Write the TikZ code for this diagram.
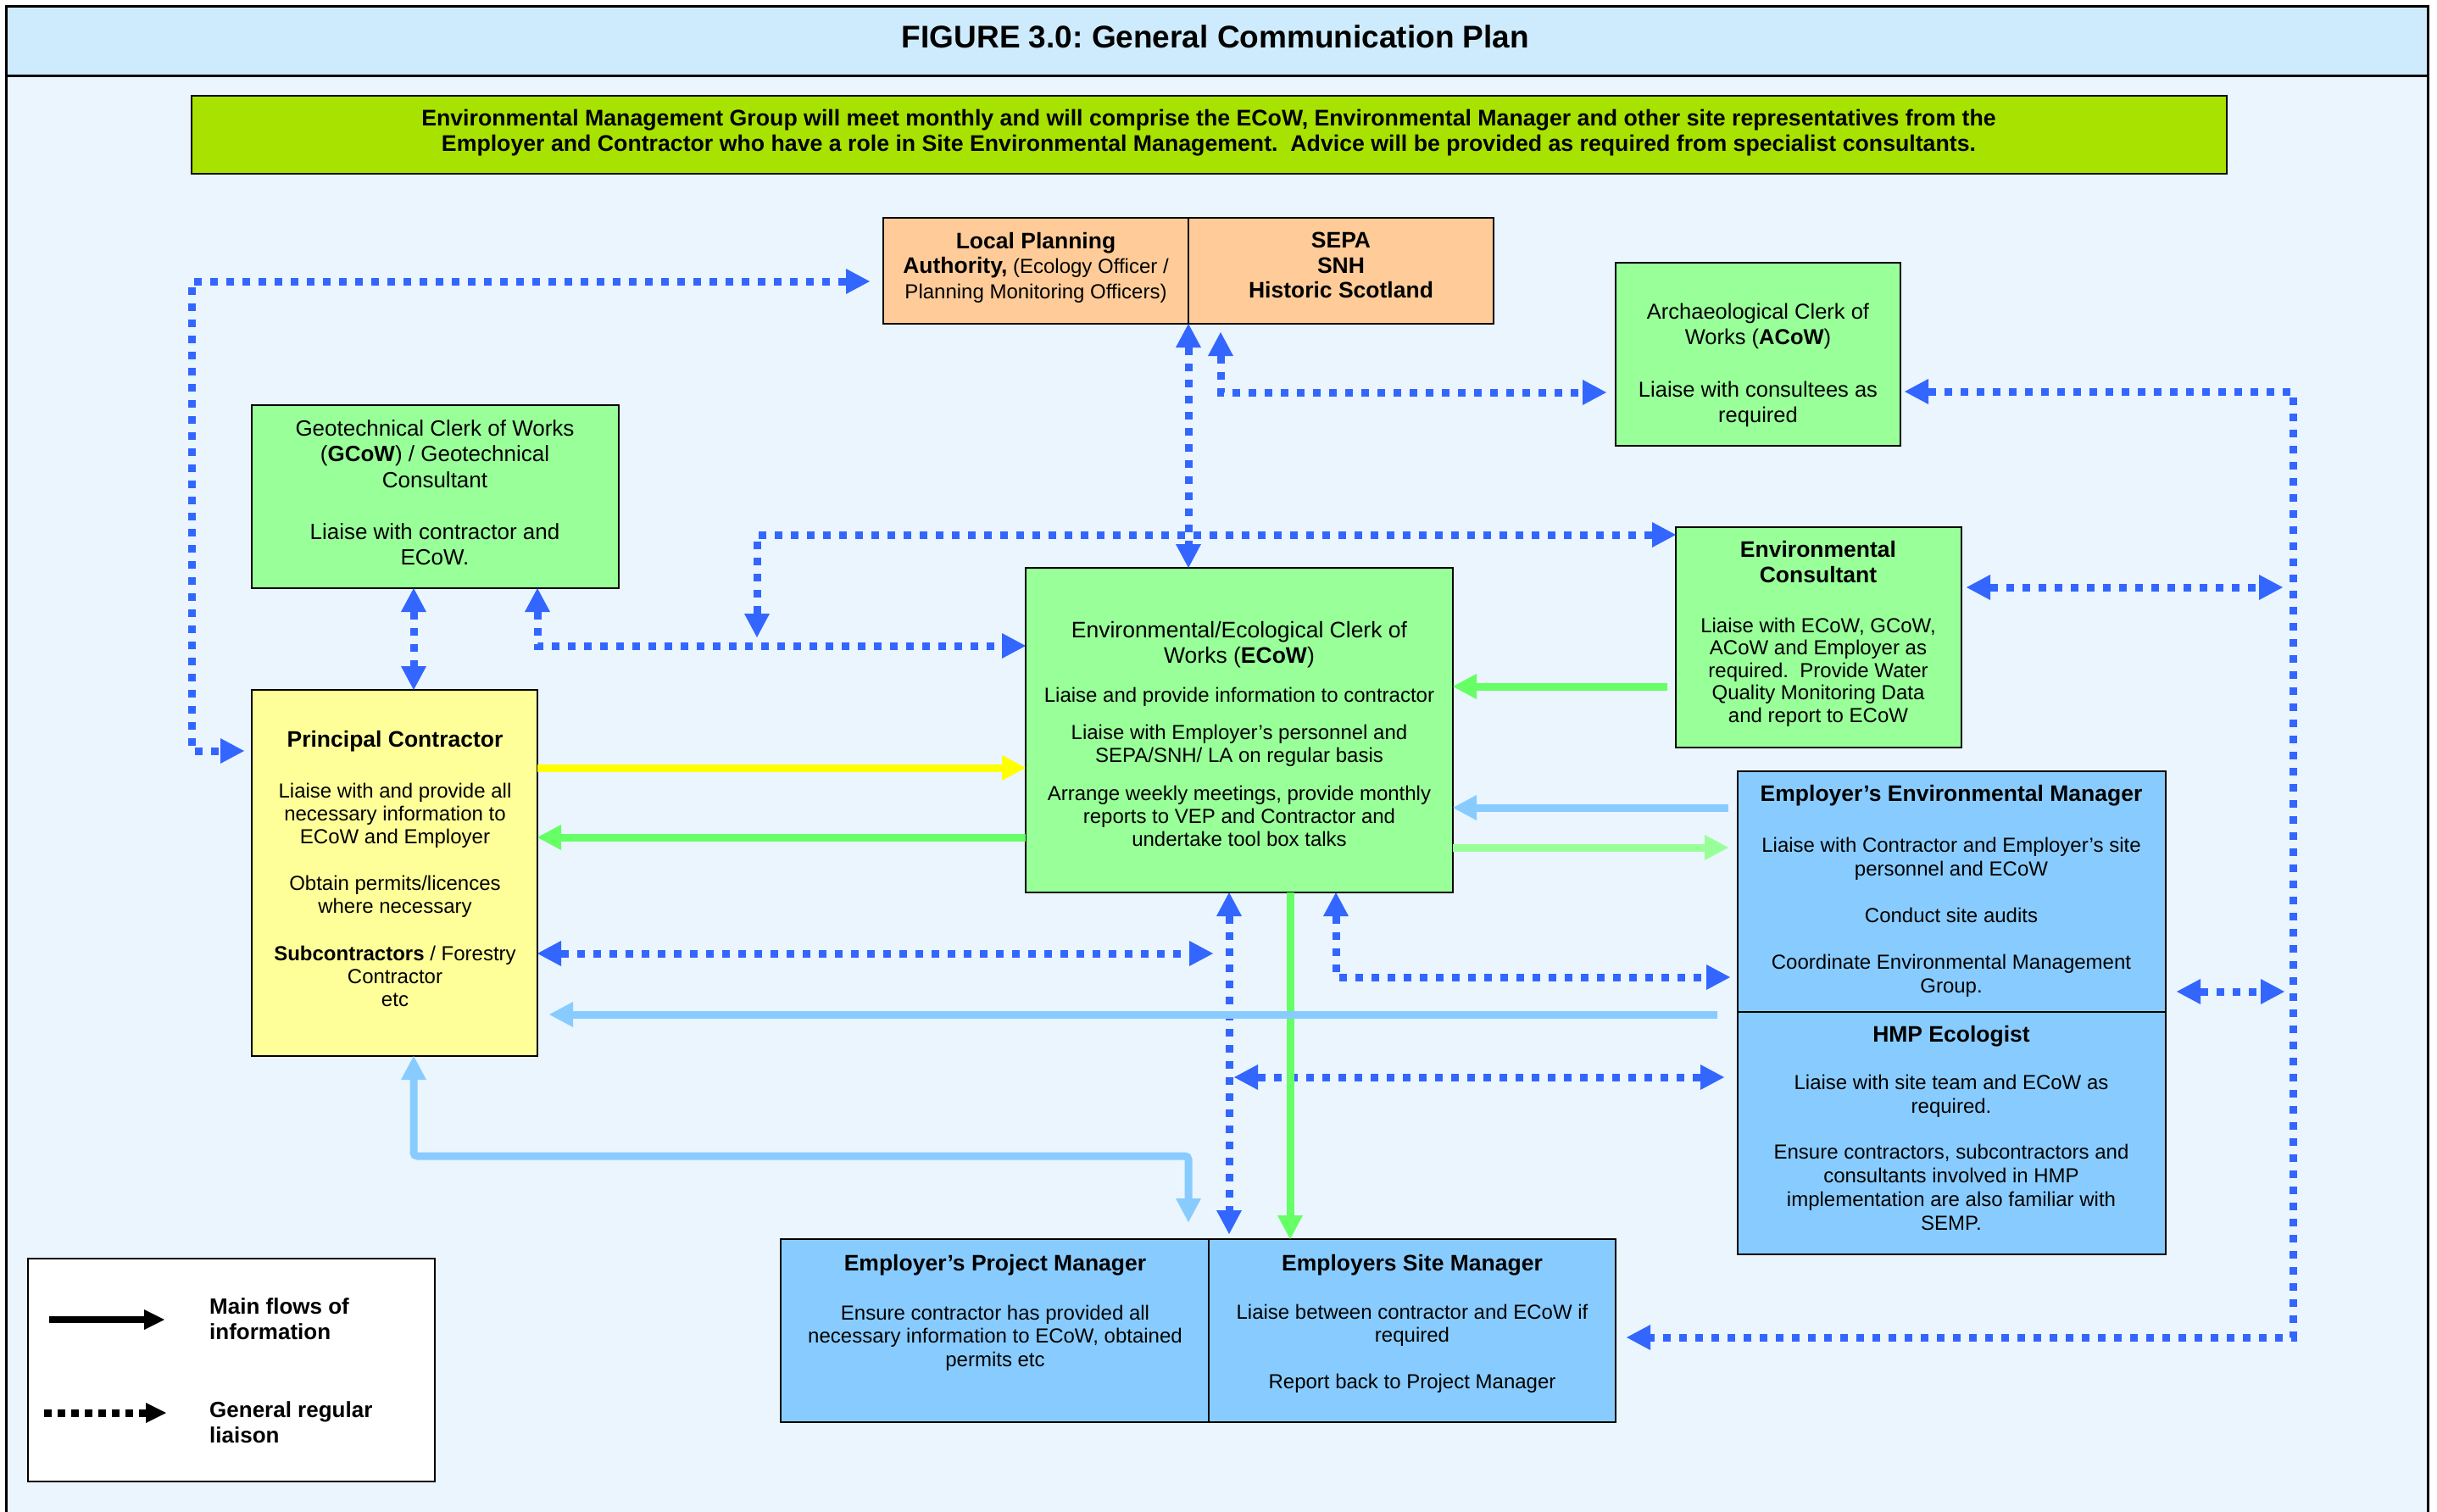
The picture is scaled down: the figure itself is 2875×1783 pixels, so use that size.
\documentclass[tikz,border=0pt]{standalone}
\usepackage{fontspec}
\setmainfont{Liberation Sans}
\usetikzlibrary{arrows.meta}
\definecolor{titlebg}{RGB}{205,235,252}
\definecolor{mainbg}{RGB}{234,245,253}
\definecolor{bannergreen}{RGB}{168,226,0}
\definecolor{peach}{RGB}{255,204,153}
\definecolor{boxgreen}{RGB}{153,255,153}
\definecolor{boxyellow}{RGB}{255,255,153}
\definecolor{boxblue}{RGB}{136,204,255}
\definecolor{dotblue}{RGB}{51,102,255}
\definecolor{flowgreen}{RGB}{102,255,102}
\definecolor{flowpale}{RGB}{153,255,153}
\definecolor{flowyellow}{RGB}{255,255,0}
\definecolor{flowblue}{RGB}{136,204,255}
\newcommand{\BodyFont}{\fontsize{24}{27}\selectfont}
\newcommand{\HeadFont}{\fontsize{26.5}{30}\selectfont\bfseries}
\newcommand{\BigFont}{\fontsize{26.5}{30}\selectfont}
\frenchspacing
\begin{document}
\begin{tikzpicture}[x=1pt,y=-1pt,
  >={Triangle[length=28pt,width=30pt,line width=0pt]},
  box/.style={draw=black, line width=2.5pt, anchor=north west, inner sep=0pt, outer sep=0pt},
  txt/.style={anchor=north, align=center, inner sep=0pt, font=\BodyFont},
  liaison/.style={draw=dotblue, line width=9pt, dash pattern=on 9pt off 10pt, <->},
  flowG/.style={draw=flowgreen, line width=9pt, ->},
  flowP/.style={draw=flowpale, line width=9pt, ->},
  flowY/.style={draw=flowyellow, line width=9pt, ->},
  flowB/.style={draw=flowblue, line width=9pt, ->},
  legtxt/.style={anchor=north west, align=left, inner sep=0pt, font=\fontsize{26}{30}\selectfont\bfseries}
]
\useasboundingbox (0,0) rectangle (2875,1783);
\fill[white] (0,0) rectangle (2875,1783);
% frame and title
\node[box, line width=3pt, fill=mainbg, minimum width=2857pt, minimum height=1820pt] (frame) at (7,7) {};
\node[box, line width=3pt, fill=titlebg, minimum width=2857pt, minimum height=82pt] (titlebar) at (7,7) {};
\node[inner sep=0pt, font=\fontsize{37}{40}\selectfont\bfseries] (title) at (1434,43) {FIGURE 3.0: General Communication Plan};
% banner
\node[box, line width=2pt, fill=bannergreen, minimum width=2401pt, minimum height=92pt] (banner) at (226,113) {};
\node[txt, font=\fontsize{26.7}{30}\selectfont\bfseries] (bannertext) at (1426,129) {Environmental Management Group will meet monthly and will comprise the ECoW, Environmental Manager and other site representatives from the\\Employer and Contractor who have a role in Site Environmental Management.\ \ Advice will be provided as required from specialist consultants.};
% boxes
\node[box, fill=peach, minimum width=360pt, minimum height=125pt] (lpa) at (1042,257) {};
\node[box, fill=peach, minimum width=360pt, minimum height=125pt] (sepa) at (1402,257) {};
\node[box, fill=boxgreen, minimum width=336pt, minimum height=216pt] (acow) at (1906,310) {};
\node[box, fill=boxgreen, minimum width=433pt, minimum height=216pt] (gcow) at (297,478) {};
\node[box, fill=boxgreen, minimum width=504pt, minimum height=383pt] (ecow) at (1210,670) {};
\node[box, fill=boxgreen, minimum width=337pt, minimum height=260pt] (envc) at (1977,622) {};
\node[box, fill=boxblue, minimum width=505pt, minimum height=284pt] (eem) at (2050,910) {};
\node[box, fill=boxblue, minimum width=505pt, minimum height=286pt] (hmp) at (2050,1194) {};
\node[box, fill=boxyellow, minimum width=337pt, minimum height=432pt] (pc) at (297,814) {};
\node[box, fill=boxblue, minimum width=505pt, minimum height=216pt] (pm) at (921,1462) {};
\node[box, fill=boxblue, minimum width=480pt, minimum height=216pt] (sm) at (1426,1462) {};
\node[box, line width=2pt, fill=white, minimum width=480pt, minimum height=263pt] (legend) at (33,1485) {};
% texts
\node[txt, font=\fontsize{24}{29.5}\selectfont] (lpatext) at (1222,274) {{\HeadFont Local Planning}\\{\HeadFont Authority,} (Ecology Officer /\\Planning Monitoring Officers)};
\node[txt, font=\fontsize{26.5}{29.5}\selectfont\bfseries] (sepatext) at (1582,274) {SEPA\\SNH\\Historic Scotland};
\node[txt, font=\fontsize{25.5}{30}\selectfont] (acowtext) at (2074,358) {Archaeological Clerk of\\Works (\textbf{ACoW})\\[32pt]Liaise with consultees as\\required};
\node[txt, font=\fontsize{26}{30.5}\selectfont] (gcowtext) at (513,495) {Geotechnical Clerk of Works\\(\textbf{GCoW}) / Geotechnical\\Consultant\\[30.5pt]Liaise with contractor and\\ECoW.};
\node[txt] (ecowtext) at (1462,733) {{\BigFont Environmental/Ecological Clerk of}\\[3pt]{\BigFont Works (\textbf{ECoW})}\\[19pt]Liaise and provide information to contractor\\[17pt]Liaise with Employer’s personnel and\\SEPA/SNH/ LA on regular basis\\[18pt]Arrange weekly meetings, provide monthly\\reports to VEP and Contractor and\\undertake tool box talks};
\node[txt, font=\fontsize{24}{26.5}\selectfont] (envctext) at (2145,638) {{\HeadFont Environmental}\\[3.5pt]{\HeadFont Consultant}\\[32.5pt]Liaise with ECoW, GCoW,\\ACoW and Employer as\\required.\ \ Provide Water\\Quality Monitoring Data\\and report to ECoW};
\node[txt, font=\fontsize{24}{28}\selectfont] (eemtext) at (2302,926) {{\HeadFont Employer’s Environmental Manager}\\[32pt]Liaise with Contractor and Employer’s site\\personnel and ECoW\\[27pt]Conduct site audits\\[27pt]Coordinate Environmental Management\\Group.};
\node[txt, font=\fontsize{24}{28}\selectfont] (hmptext) at (2302,1210) {{\HeadFont HMP Ecologist}\\[28pt]Liaise with site team and ECoW as\\required.\\[26pt]Ensure contractors, subcontractors and\\consultants involved in HMP\\implementation are also familiar with\\SEMP.};
\node[txt] (pctext) at (466,862) {{\HeadFont Principal Contractor}\\[33pt]Liaise with and provide all\\necessary information to\\ECoW and Employer\\[28pt]Obtain permits/licences\\where necessary\\[29pt]\textbf{Subcontractors} / Forestry\\Contractor\\etc};
\node[txt, font=\fontsize{24}{27.5}\selectfont] (pmtext) at (1174,1480) {{\HeadFont Employer’s Project Manager}\\[30.5pt]Ensure contractor has provided all\\necessary information to ECoW, obtained\\permits etc};
\node[txt, font=\fontsize{24}{27}\selectfont] (smtext) at (1666,1480) {{\HeadFont Employers Site Manager}\\[30pt]Liaise between contractor and ECoW if\\required\\[28pt]Report back to Project Manager};
% legend
\node[legtxt] (leg1) at (247,1531) {Main flows of\\information};
\node[legtxt] (leg2) at (247,1653) {General regular\\liaison};
\coordinate (l1a) at (58,1557); \coordinate (l1b) at (194,1557);
\coordinate (l2a) at (52,1667); \coordinate (l2b) at (196,1667);
\draw[black, line width=8pt, -{Triangle[length=24pt,width=24pt,line width=0pt]}] (l1a) -- (l1b);
\draw[black, line width=9pt, dash pattern=on 9pt off 7pt, -{Triangle[length=24pt,width=24pt,line width=0pt]}] (l2a) -- (l2b);
% free-end coordinates
\coordinate (hTip) at (893,752);
\coordinate (nTip) at (1431,1125);
\coordinate (sTip) at (1456,1271);
\coordinate (rvE) at (2693,693);
\coordinate (rvF) at (2695,1170);
% dotted liaison connectors
\draw[liaison, shorten <=16pt, shorten >=9pt] (lpa.west |- 0,332) -| (226,886) -- (pc.west |- 0,886);
\draw[liaison] (lpa.south east) -- (ecow.north -| lpa.south east);
\draw[liaison, shorten <=10pt, shorten >=11pt] (sepa.south -| 1440,0) |- (acow.west |- 0,463);
\draw[liaison, shorten <=5pt, shorten >=13pt] (acow.east |- 0,462) -| (2705,1578) -- (sm.east |- 0,1578);
\draw[liaison, shorten <=6pt] (envc.east |- 0,693) -- (rvE);
\draw[liaison, shorten <=13pt] (eem.east |- 0,1170) -- (rvF);
\draw[liaison] (gcow.south -| 488,0) -- (pc.north -| 488,0);
\draw[liaison] (gcow.south -| 634,0) |- (ecow.west |- 0,762);
\draw[liaison] (hTip) |- (envc.west |- 0,631);
\draw[liaison] (pc.east |- 0,1125) -- (nTip);
\draw[liaison, shorten >=6pt] (ecow.south -| 1450,0) -- (sm.north -| 1450,0);
\draw[liaison, shorten >=9pt] (ecow.south -| 1576,0) |- (eem.west |- 0,1153);
\draw[liaison, shorten >=16pt] (sTip) -- (hmp.west |- 0,1271);
% solid flows
\draw[flowY] (pc.east |- 0,906) -- (ecow.west |- 0,906);
\draw[flowG] (ecow.west |- 0,988) -- (pc.east |- 0,988);
\draw[flowG, shorten <=10pt] (envc.west |- 0,810) -- (ecow.east |- 0,810);
\draw[flowB, shorten <=11pt] (eem.west |- 0,953) -- (ecow.east |- 0,953);
\draw[flowP, shorten >=11pt] (ecow.east |- 0,1000) -- (eem.west |- 0,1000);
\draw[flowG] (ecow.south -| 1522,0) -- (sm.north -| 1522,0);
\draw[flowB, shorten <=24pt, shorten >=14pt] (eem.west |- 0,1197) -- (pc.east |- 0,1197);
\draw[flowB, <->, rounded corners=4pt, shorten >=20pt] (pc.south -| 488,0) |- (1402,1364) -- (pm.north -| 1402,0);
\end{tikzpicture}
\end{document}
